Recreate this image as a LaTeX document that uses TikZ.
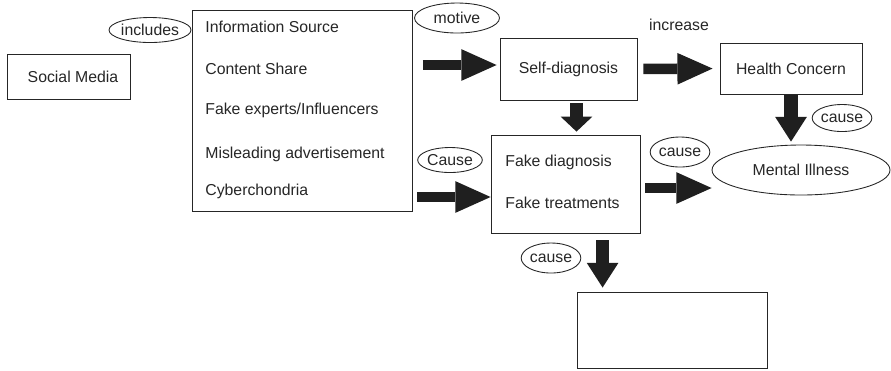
\documentclass[tikz,border=0pt]{standalone}
\usepackage{fontspec}
\setmainfont{Liberation Sans}
\usetikzlibrary{shapes.geometric}
\usetikzlibrary{arrows.meta}

\begin{document}
\begin{tikzpicture}[x=0.02cm, y=-0.02cm,
		box/.style={draw=black!85, line width=0.5pt, rectangle, inner sep=0pt},
		tag/.style={draw=black!85, line width=0.5pt, ellipse, inner sep=0pt},
		item/.style={anchor=west, inner sep=0pt},
		bigarrow/.style={draw=black!88, line width=6pt, -{Triangle[width=18pt, length=20pt, line width=0pt]}},
		downarrow/.style={draw=black!88, line width=7.5pt, -{Triangle[width=18pt, length=14pt, line width=0pt]}},
		every node/.style={font=\fontsize{9}{11}\selectfont, text=black!85}]
		\useasboundingbox (0,0) rectangle (891,370);
		
		\node[box, minimum width=2.46cm, minimum height=0.9cm] (social) at (68.5,76.5) {\hspace{0.18cm}Social Media};
		\node[tag, minimum width=1.6cm, minimum height=0.5cm] (includes) at (150,30) {includes};
		
		\node[box, minimum width=4.4cm, minimum height=4.02cm] (list) at (302,110.5) {};
		\node[item] (source) at (205,27) {Information Source};
		\node[item] (share) at (205,69) {Content Share};
		\node[item] (experts) at (205,110) {Fake experts/Influencers};
		\node[item] (advert) at (205,154) {Misleading advertisement};
		\node[item] (cyber) at (205,191) {Cyberchondria};
		
		\node[tag, minimum width=1.7cm, minimum height=0.6cm] (motive) at (457,18) {motive};
		\node[box, minimum width=2.74cm, minimum height=1.24cm] (self) at (568.5,69) {Self-diagnosis};
		\node (increase) at (679,25) {increase};
		\node[box, minimum width=2.84cm, minimum height=1.02cm] (health) at (791,68.5) {Health Concern};
		\node[tag, minimum width=1.1cm, minimum height=0.54cm] (cause1) at (842,118) {cause};
		\node[tag, minimum width=3.56cm, minimum height=1.0cm] (mental) at (801,170) {Mental Illness};
		
		\node[tag, minimum width=1.1cm, minimum height=0.5cm] (cause2) at (450,160) {Cause};
		\node[box, minimum width=2.98cm, minimum height=1.96cm] (fake) at (565.5,184) {};
		\node[item] (fakediag) at (505,162) {Fake diagnosis};
		\node[item] (faketreat) at (505,203) {Fake treatments};
		\node[tag, minimum width=1.1cm, minimum height=0.6cm] (cause3) at (680,152) {cause};
		\node[tag, minimum width=1.14cm, minimum height=0.6cm] (cause4) at (551,258) {cause};
		\node[box, minimum width=3.8cm, minimum height=1.52cm] (result) at (672,330) {};
		
		% arrows
		\coordinate (m1) at ([yshift=0.08cm]self.west);
		\draw[bigarrow, shorten <=6pt, shorten >=1.7pt] (list.east |- m1) -- (m1);
		\draw[bigarrow, shorten <=3.4pt, shorten >=4pt] (self.east) -- (health.west);
		\coordinate (m2) at ([yshift=-0.26cm]fake.west);
		\draw[bigarrow, shorten <=2.8pt] (list.east |- m2) -- (m2);
		\coordinate (m3) at ([yshift=-0.08cm]fake.east);
		\draw[bigarrow, shorten <=2.8pt] (m3) -- (mental.west |- m3);
		
		\coordinate (m4) at ([xshift=0.16cm]self.south);
		\draw[downarrow, -{Triangle[width=18pt, length=8.5pt, line width=0pt]}, shorten <=1.7pt, shorten >=1.7pt] (m4) -- (m4 |- fake.north);
		\draw[downarrow, shorten <=0.6pt, shorten >=1.7pt] (health.south) -- (health.south |- mental.north);
		\coordinate (m5) at ([xshift=0.52cm]result.north west);
		\draw[downarrow, shorten <=4pt, shorten >=2.3pt] (fake.south -| m5) -- (m5);
	\end{tikzpicture}
\end{document}
